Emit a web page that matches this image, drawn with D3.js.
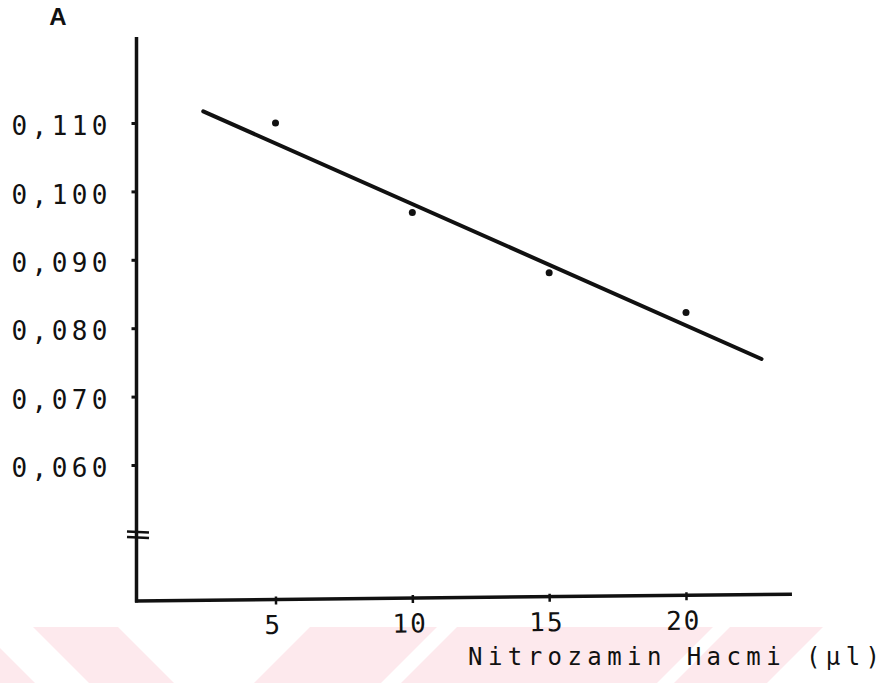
<!DOCTYPE html>
<html>
<head>
<meta charset="utf-8">
<script src="https://cdn.jsdelivr.net/npm/d3@7"></script>
<style>
  html, body { margin: 0; padding: 0; background: #fff; }
  svg { display: block; }
  text { fill: #111; }
</style>
</head>
<body>
<svg id="chart" width="888" height="683"></svg>
<script>
// Measured absorbance against nitrosamine volume
const volumes = [5, 10, 15, 20];          // µl
const absorbance = [0.110, 0.0969, 0.0881, 0.0823];

// Regression line end points
const fitVolumes = [2.36, 22.76];
const fitAbsorbance = [0.1117, 0.0755];

// Axis ticks
const xTicks = [5, 10, 15, 20];
const yTicks = [0.110, 0.100, 0.090, 0.080, 0.070, 0.060];

const svg = d3.select("#chart");
const ink = "#111";
const mono = "'DejaVu Sans Mono', 'Liberation Mono', monospace";

// Light background stripes along the bottom edge
const stripes = [
  { top: [-90, -21], lean: 1 },
  { top: [33, 118], lean: 1 },
  { top: [310, 437], lean: -1 },
  { top: [457, 713], lean: -1 },
  { top: [730, 823], lean: -1 }
];
const sTop = 627, sBot = 683, sH = sBot - sTop;
svg.append("g").selectAll("path").data(stripes).join("path")
  .attr("fill", "#fde9ed")
  .attr("d", s => {
    const dx = s.lean * sH;
    return `M${s.top[0]},${sTop}L${s.top[1]},${sTop}L${s.top[1] + dx},${sBot}L${s.top[0] + dx},${sBot}Z`;
  });

// Scales
const x = d3.scaleLinear().domain([5, 20]).range([275.5, 686]);
const y = d3.scaleLinear().domain([0.060, 0.110]).range([465, 123]);

const axisX0 = 136.5, axisY0 = 601;

// Y axis
const yAxis = svg.append("g")
  .attr("transform", `translate(${axisX0},0)`)
  .call(d3.axisLeft(y)
    .tickValues(yTicks)
    .tickSize(5)
    .tickFormat(d => d3.format(".3f")(d).replace(".", ",")));
yAxis.select(".domain").remove();
yAxis.selectAll(".tick line").attr("stroke", ink).attr("stroke-width", 3);
yAxis.selectAll(".tick text")
  .attr("text-anchor", "start")
  .attr("x", -125)
  .attr("dy", "0.45em")
  .attr("textLength", 96)
  .attr("lengthAdjust", "spacing")
  .style("font-family", mono)
  .style("font-size", "26px")
  .attr("fill", ink);

// Y axis line with break mark
svg.append("line")
  .attr("x1", axisX0).attr("x2", axisX0)
  .attr("y1", 37).attr("y2", axisY0 + 1.5)
  .attr("stroke", ink).attr("stroke-width", 3.5);
svg.append("g").selectAll("line").data([532, 537.5]).join("line")
  .attr("x1", 127).attr("x2", 149)
  .attr("y1", d => d - 0.5).attr("y2", d => d + 0.5)
  .attr("stroke", ink).attr("stroke-width", 2.5);

// X axis (slightly tilted baseline)
const xAxis = svg.append("g")
  .attr("transform", `translate(0,${axisY0}) rotate(-0.6, ${axisX0}, 0)`);
xAxis.call(d3.axisBottom(x)
  .tickValues(xTicks)
  .tickSize(5)
  .tickFormat(d3.format("d")));
xAxis.select(".domain").remove();
xAxis.append("line")
  .attr("x1", axisX0 - 1.5).attr("x2", 792)
  .attr("y1", 0).attr("y2", 0)
  .attr("stroke", ink).attr("stroke-width", 3.5);
xAxis.selectAll(".tick line").attr("stroke", ink).attr("stroke-width", 2.5).attr("y1", -3);
xAxis.selectAll(".tick text")
  .attr("y", 16)
  .attr("dy", "0.71em")
  .attr("transform", "translate(-3,0)")
  .style("font-family", mono)
  .style("font-size", "26px")
  .style("letter-spacing", "2px")
  .attr("fill", ink);

// Axis title
svg.append("text")
  .attr("x", 468).attr("y", 665)
  .attr("textLength", 412)
  .attr("lengthAdjust", "spacing")
  .style("font-family", mono)
  .style("font-size", "24px")
  .text("Nitrozamin Hacmi (µl)");

// Panel letter
svg.append("text")
  .attr("x", 58).attr("y", 25)
  .attr("text-anchor", "middle")
  .style("font-family", "'Liberation Sans', Arial, sans-serif")
  .style("font-size", "24px")
  .style("font-weight", "bold")
  .text("A");

// Regression line
const fit = fitVolumes.map((v, i) => [v, fitAbsorbance[i]]);
svg.append("path")
  .datum(fit)
  .attr("fill", "none")
  .attr("stroke", ink)
  .attr("stroke-width", 4)
  .attr("stroke-linecap", "round")
  .attr("d", d3.line().x(d => x(d[0])).y(d => y(d[1])));

// Measured points
svg.append("g").selectAll("circle")
  .data(volumes.map((v, i) => [v, absorbance[i]]))
  .join("circle")
  .attr("cx", d => x(d[0]))
  .attr("cy", d => y(d[1]))
  .attr("r", 3.5)
  .attr("fill", ink);
</script>
</body>
</html>
